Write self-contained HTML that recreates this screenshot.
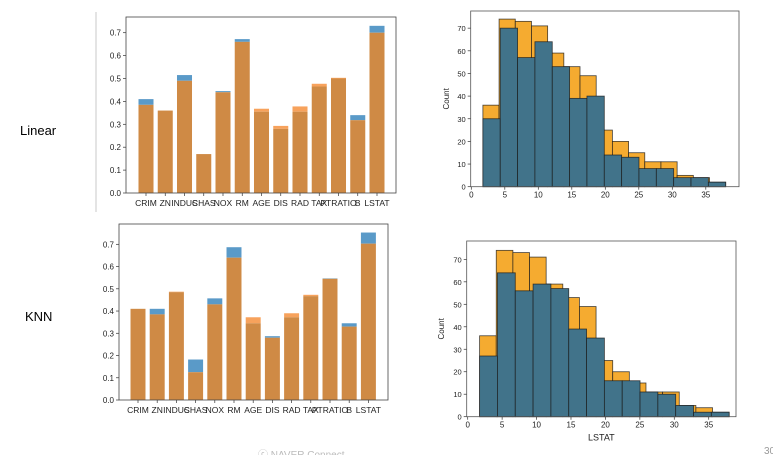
<!DOCTYPE html>
<html><head><meta charset="utf-8">
<style>
html,body{margin:0;padding:0;background:#fff;width:773px;height:455px;overflow:hidden;font-family:"Liberation Sans",sans-serif;}
svg{position:absolute;left:0;top:0;}
</style></head>
<body>
<svg id="s" width="773" height="455" viewBox="0 0 773 455">
<line x1="96" y1="12" x2="96" y2="212" stroke="#e4e4e4" stroke-width="2"/>
<text x="20" y="135" font-size="13" fill="#000">Linear</text>
<text x="25" y="321" font-size="13" fill="#000">KNN</text>
<text x="258" y="458" font-size="10" fill="#bbb">ⓒ  NAVER Connect</text>
<text x="764" y="454" font-size="10" fill="#999">30</text>
</svg>
<script>
const features=["CRIM","ZN","INDUS","CHAS","NOX","RM","AGE","DIS","RAD","TAX","PTRATIO","B","LSTAT"];
const linBlue=[0.41,0.36,0.515,0.17,0.445,0.672,0.355,0.28,0.355,0.465,0.5,0.34,0.73];
const linOrange=[0.385,0.36,0.49,0.17,0.44,0.66,0.368,0.293,0.378,0.477,0.503,0.318,0.70];
const knnBlue=[0.41,0.41,0.485,0.182,0.457,0.687,0.345,0.287,0.372,0.467,0.547,0.345,0.753];
const knnOrange=[0.41,0.385,0.487,0.125,0.43,0.64,0.372,0.28,0.39,0.473,0.545,0.33,0.703];
const barTicks=[0,0.1,0.2,0.3,0.4,0.5,0.6,0.7];
const lstatMin=1.73, lstatMax=37.97;
const obsCounts=[36,74,73,71,59,53,49,25,20,15,11,11,5,4,2];
const linPredCounts=[30,70,57,64,53,39,40,14,13,8,8,4,4,2];
const knnPredCounts=[27,64,56,59,57,39,35,16,16,11,10,5,2,2];
const histXTicks=[0,5,10,15,20,25,30,35];
const histYTicks=[0,10,20,30,40,50,60,70];

const NS="http://www.w3.org/2000/svg";
const svg=document.getElementById('s');
function el(tag,attrs,parent){const e=document.createElementNS(NS,tag);for(const k in attrs)e.setAttribute(k,attrs[k]);(parent||svg).appendChild(e);return e;}

function barChart(name,box,blue,orange){
  const g=el('g',{});
  
  
  const y=v=>box.y0-v*box.per;
  const x=i=>box.c0+i*box.step;
  const w=box.step*0.78;
  features.forEach((f,i)=>{
    const b=blue[i],o=orange[i],lo=Math.min(b,o),hi=Math.max(b,o);
    if(hi>lo){const r=el('rect',{x:x(i)-w/2,y:y(hi),width:w,height:y(lo)-y(hi),fill:b>o?'#5a9ac8':'#f7a25c'},g);
      
      }
    const r2=el('rect',{x:x(i)-w/2,y:y(lo),width:w,height:box.y0-y(lo),fill:'#cf8a45'},g);
    
    
    const t=el('text',{x:x(i),y:box.y0+13,'font-size':8.5,'text-anchor':'middle',fill:'#222'},g);
    t.textContent=f;
    
    
    el('line',{x1:x(i),x2:x(i),y1:box.y0,y2:box.y0+3,stroke:'#333','stroke-width':0.7},g);
  });
  barTicks.forEach(v=>{
    el('line',{x1:box.x0-3,x2:box.x0,y1:y(v),y2:y(v),stroke:'#333','stroke-width':0.7},g);
    const t=el('text',{x:box.x0-5,y:y(v)+3,'font-size':8,'text-anchor':'end',fill:'#222'},g);
    t.textContent=v.toFixed(1);
    
    
  });
  const f=el('rect',{x:box.x0,y:box.top,width:box.x1-box.x0,height:box.y0-box.top,fill:'none',stroke:'#444','stroke-width':0.8},g);
  
  
}
barChart('linear-importance-chart',{x0:126,x1:396,top:17,y0:193,per:229,c0:146,step:19.25},linBlue,linOrange);
barChart('knn-importance-chart',{x0:119,x1:388,top:224,y0:400,per:222.4,c0:138,step:19.2},knnBlue,knnOrange);

function hist(name,box,pred,showXLabel){
  const g=el('g',{});
  
  
  const x=v=>box.xz+v*box.px;
  const y=c=>box.y0-c*box.py;
  const drawSeries=(counts,fill,sname)=>{
    const bw=(lstatMax-lstatMin)/counts.length;
    counts.forEach((c,i)=>{
      const a=lstatMin+i*bw;
      const r=el('rect',{x:x(a),y:y(c),width:x(a+bw)-x(a),height:box.y0-y(c),fill:fill,stroke:'#1a1a1a','stroke-opacity':0.8,'stroke-width':0.8},g);
      
      
    });
  };
  drawSeries(obsCounts,'#f5ab30','actual');
  drawSeries(pred,'#41738a','predicted');
  histXTicks.forEach(v=>{
    el('line',{x1:x(v),x2:x(v),y1:box.y0,y2:box.y0+3,stroke:'#333','stroke-width':0.7},g);
    const t=el('text',{x:x(v),y:box.y0+11,'font-size':8,'text-anchor':'middle',fill:'#222'},g);
    t.textContent=v;
    
    
  });
  histYTicks.forEach(v=>{
    el('line',{x1:box.x0-3,x2:box.x0,y1:y(v),y2:y(v),stroke:'#333','stroke-width':0.7},g);
    const t=el('text',{x:box.x0-5,y:y(v)+3,'font-size':7.5,'text-anchor':'end',fill:'#222'},g);
    t.textContent=v;
    
    
  });
  const f=el('rect',{x:box.x0,y:box.top,width:box.x1-box.x0,height:box.y0-box.top,fill:'none',stroke:'#555','stroke-width':0.8},g);
  
  
  const cy=(box.top+box.y0)/2;
  const yl=el('text',{x:box.ylx,y:cy,'font-size':8,'text-anchor':'middle',fill:'#222',transform:'rotate(-90 '+box.ylx+' '+cy+')'},g);
  yl.textContent='Count';
  
  
  if(showXLabel){
    const xl=el('text',{x:(box.x0+box.x1)/2,y:box.y0+24,'font-size':9,'text-anchor':'middle',fill:'#222'},g);
    xl.textContent='LSTAT';
    
    
  }
}
hist('linear-lstat-histogram',{x0:470.7,x1:739,top:11,y0:186.7,xz:471.3,px:6.70,py:2.265,ylx:449},linPredCounts,false);
hist('knn-lstat-histogram',{x0:466.7,x1:736,top:241,y0:416.7,xz:467.7,px:6.886,py:2.248,ylx:444},knnPredCounts,true);
</script>
</body></html>
